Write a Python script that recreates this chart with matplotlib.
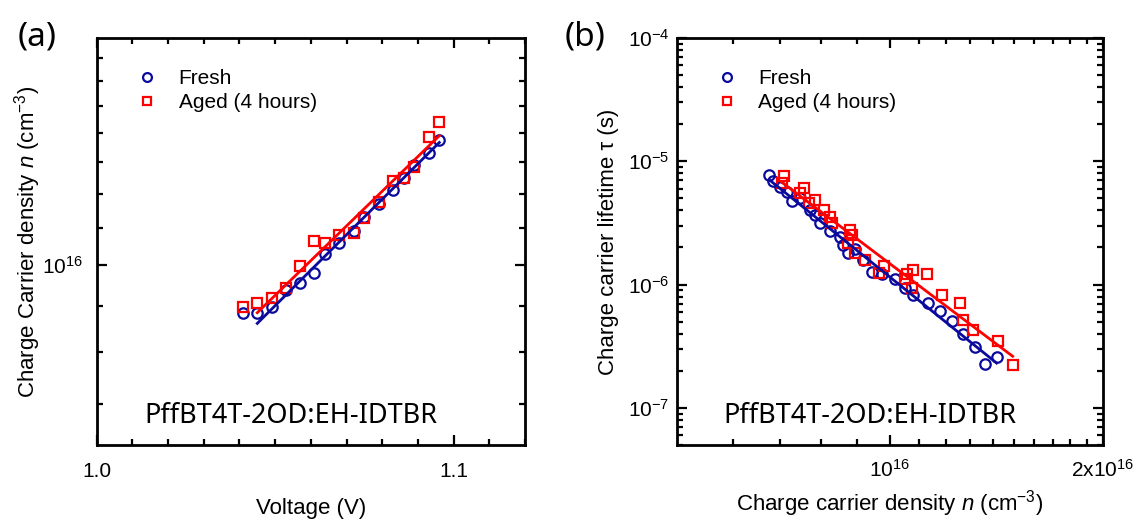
import numpy as np
import matplotlib
matplotlib.use('Agg')
import matplotlib.pyplot as plt
from matplotlib.ticker import FixedLocator, FixedFormatter, NullFormatter

plt.rcParams['font.family'] = ['Liberation Sans', 'DejaVu Sans']
plt.rcParams['mathtext.fontset'] = 'custom'
plt.rcParams['mathtext.rm'] = 'Liberation Sans'
plt.rcParams['mathtext.it'] = 'Liberation Sans:italic'
plt.rcParams['axes.unicode_minus'] = False

BLUE = '#0A0A9C'
RED = '#FF0000'

# (a) charge carrier density vs voltage
v_fresh = [1.041, 1.045, 1.049, 1.053, 1.057, 1.061, 1.064, 1.068,
           1.072, 1.075, 1.079, 1.083, 1.086, 1.089, 1.093, 1.096]
n_fresh = [0.884e16, 0.885e16, 0.899e16, 0.938e16, 0.956e16, 0.980e16, 1.028e16, 1.059e16,
           1.091e16, 1.132e16, 1.170e16, 1.211e16, 1.248e16, 1.291e16, 1.331e16, 1.377e16]
v_aged = v_fresh
n_aged = [0.899e16, 0.908e16, 0.918e16, 0.944e16, 0.997e16, 1.063e16, 1.059e16, 1.080e16,
          1.085e16, 1.129e16, 1.176e16, 1.240e16, 1.248e16, 1.286e16, 1.389e16, 1.442e16]

# (b) lifetime vs charge carrier density
nb_fresh = [6.76e15, 6.83e15, 7.00e15, 7.17e15, 7.27e15, 7.47e15, 7.72e15, 7.84e15, 7.97e15,
            8.24e15, 8.51e15, 8.60e15, 8.74e15, 8.93e15, 9.18e15, 9.43e15, 9.74e15, 1.018e16,
            1.051e16, 1.080e16, 1.134e16, 1.178e16, 1.224e16, 1.270e16, 1.320e16, 1.364e16, 1.416e16]
tau_fresh = [7.74e-6, 6.95e-6, 6.21e-6, 5.66e-6, 4.79e-6, 5.00e-6, 4.02e-6, 3.66e-6, 3.17e-6,
             2.73e-6, 2.41e-6, 2.09e-6, 1.81e-6, 1.96e-6, 1.58e-6, 1.27e-6, 1.23e-6, 1.10e-6,
             9.46e-7, 8.18e-7, 7.08e-7, 6.10e-7, 5.06e-7, 4.00e-7, 3.11e-7, 2.25e-7, 2.58e-7]
nb_aged = [7.08e15, 7.04e15, 7.57e15, 7.47e15, 7.84e15, 7.70e15, 8.08e15, 8.24e15, 8.28e15,
           8.79e15, 8.84e15, 8.74e15, 8.93e15, 9.23e15, 9.67e15, 9.82e15, 1.051e16, 1.057e16,
           1.080e16, 1.075e16, 1.128e16, 1.185e16, 1.257e16, 1.270e16, 1.313e16, 1.423e16, 1.492e16]
tau_aged = [7.60e-6, 6.70e-6, 6.03e-6, 5.50e-6, 4.84e-6, 4.60e-6, 4.02e-6, 3.51e-6, 3.13e-6,
            2.76e-6, 2.52e-6, 2.16e-6, 1.79e-6, 1.58e-6, 1.24e-6, 1.41e-6, 1.12e-6, 1.23e-6,
            1.32e-6, 9.46e-7, 1.21e-6, 8.18e-7, 7.14e-7, 5.19e-7, 4.31e-7, 3.46e-7, 2.21e-7]

sample = 'PffBT4T-2OD:EH-IDTBR'
legend_labels = ['Fresh', 'Aged (4 hours)']


def style_axes(ax):
    for s in ax.spines.values():
        s.set_linewidth(2)
    ax.tick_params(which='both', direction='in', top=True, right=True, labelsize=15, width=1.6)
    ax.tick_params(which='major', length=7)
    ax.tick_params(which='minor', length=4)


fig = plt.figure(figsize=(11.4, 5.25), dpi=100)

# ---------- panel (a)
ax1 = fig.add_axes([0.0848, 0.1524, 0.3757, 0.7752])
ax1.set_yscale('log')
ax1.plot(v_fresh, n_fresh, 'o', ms=7.5, mfc='none', mec=BLUE, mew=1.6, label=legend_labels[0])
ax1.plot(v_aged, n_aged, 's', ms=7.5, mfc='none', mec=RED, mew=1.6, label=legend_labels[1])

# linear fits of log(n) vs V (first two points left out)
for v, n, c in [(v_fresh, n_fresh, BLUE), (v_aged, n_aged, RED)]:
    v = np.array(v)
    p = np.polyfit(v[2:], np.log10(n[2:]), 1)
    vv = np.array([v[1], v[-1]])
    ax1.plot(vv, 10 ** np.polyval(p, vv), '-', color=c, lw=2)

ax1.set_xlim(1.0, 1.12)
ax1.set_ylim(6.31e15, 1.787e16)
ax1.xaxis.set_major_locator(FixedLocator([1.0, 1.1]))
ax1.xaxis.set_major_formatter(FixedFormatter(['1.0', '1.1']))
ax1.xaxis.set_minor_locator(FixedLocator(np.arange(1.01, 1.12, 0.01)))
ax1.yaxis.set_major_locator(FixedLocator([1e16]))
ax1.yaxis.set_major_formatter(FixedFormatter([r'$10^{16}$']))
ax1.yaxis.set_minor_locator(FixedLocator([7e15, 8e15, 9e15, 1.1e16, 1.2e16, 1.3e16,
                                          1.4e16, 1.5e16, 1.6e16, 1.7e16]))
ax1.yaxis.set_minor_formatter(NullFormatter())
style_axes(ax1)
ax1.tick_params(axis='x', which='both', pad=12)
ax1.tick_params(axis='y', which='both', pad=10)
ax1.set_xlabel('Voltage (V)', fontsize=16)
ax1.xaxis.set_label_coords(0.5, -0.13)
ax1.set_ylabel(r'Charge Carrier density $\mathit{n}$ (cm$^{-3}$)', fontsize=16)
ax1.yaxis.set_label_coords(-0.125, 0.5)
ax1.text(0.454, 0.072, sample, transform=ax1.transAxes, ha='center', va='center',
         fontsize=19.5, family=['Noto Sans', 'DejaVu Sans'])
ax1.legend(loc='upper left', bbox_to_anchor=(0.05, 0.97), frameon=False, fontsize=15,
           handlelength=1.0, handletextpad=1.0, markerscale=0.85, labelspacing=0.25)

# ---------- panel (b)
ax2 = fig.add_axes([0.5936, 0.1524, 0.3737, 0.7752])
ax2.set_xscale('log')
ax2.set_yscale('log')
ax2.plot(nb_fresh, tau_fresh, 'o', ms=7.5, mfc='none', mec=BLUE, mew=1.6, label=legend_labels[0])
ax2.plot(nb_aged, tau_aged, 's', ms=7.5, mfc='none', mec=RED, mew=1.6, label=legend_labels[1])

for n, t, c in [(nb_fresh, tau_fresh, BLUE), (nb_aged, tau_aged, RED)]:
    p = np.polyfit(np.log10(n), np.log10(t), 1)
    nn = np.array([min(n), max(n)])
    ax2.plot(nn, 10 ** np.polyval(p, np.log10(nn)), '-', color=c, lw=2)

ax2.set_xlim(5e15, 2e16)
ax2.set_ylim(5e-8, 1e-4)
ax2.xaxis.set_major_locator(FixedLocator([1e16, 2e16]))
ax2.xaxis.set_major_formatter(FixedFormatter([r'$10^{16}$', r'2x$10^{16}$']))
ax2.xaxis.set_minor_locator(FixedLocator([6e15, 7e15, 8e15, 9e15] +
                                         [k * 1e15 for k in range(11, 20)]))
ax2.xaxis.set_minor_formatter(NullFormatter())
ax2.yaxis.set_major_locator(FixedLocator([1e-7, 1e-6, 1e-5, 1e-4]))
ax2.yaxis.set_major_formatter(FixedFormatter([r'$10^{-7}$', r'$10^{-6}$', r'$10^{-5}$', r'$10^{-4}$']))
style_axes(ax2)
ax2.tick_params(axis='x', which='both', pad=10)
ax2.tick_params(axis='y', which='both', pad=5)
ax2.set_xlabel(r'Charge carrier density $\mathit{n}$ (cm$^{-3}$)', fontsize=16)
ax2.xaxis.set_label_coords(0.5, -0.105)
ax2.set_ylabel('Charge carrier lifetime τ (s)', fontsize=16)
ax2.yaxis.set_label_coords(-0.135, 0.5)
ax2.text(0.454, 0.072, sample, transform=ax2.transAxes, ha='center', va='center',
         fontsize=19.5, family=['Noto Sans', 'DejaVu Sans'])
ax2.legend(loc='upper left', bbox_to_anchor=(0.05, 0.97), frameon=False, fontsize=15,
           handlelength=1.0, handletextpad=1.0, markerscale=0.85, labelspacing=0.25)

fig.text(0.033, 0.93, '(a)', fontsize=24, ha='center', va='center', family=['Noto Sans', 'DejaVu Sans'])
fig.text(0.513, 0.93, '(b)', fontsize=24, ha='center', va='center', family=['Noto Sans', 'DejaVu Sans'])

fig.savefig('out.png', dpi=100)
